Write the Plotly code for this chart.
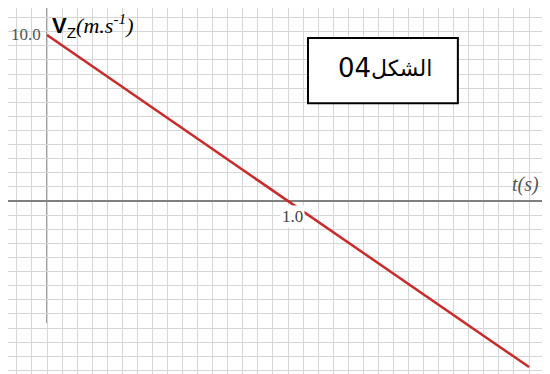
import plotly.graph_objects as go

# velocity v_z(t)
t_values = [0.0, 1.0, 2.0]
vz_values = [10.0, 0.0, -10.0]

y_tick_text = "10.0"
x_tick_text = "1.0"
y_title = ("<span style='font-family:Liberation Sans;font-size:22px'><b>V</b>"
           "<sub>Z</sub></span><i>(m.s<sup>-1</sup>)</i>")
x_title = "<i>t(s)</i>"
label_word = "الشكل"
label_num = "04"

GRID = "#d6d6d6"
AXIS = "#808080"
RED = "#c92a2a"

fig = go.Figure()

fig.add_trace(go.Scatter(
    x=t_values,
    y=vz_values,
    mode="lines",
    line=dict(color=RED, width=2.5),
    hoverinfo="skip",
))

# vertical axis line (does not run the full height)
fig.add_shape(type="line", xref="x", yref="y", x0=0, x1=0, y0=12.4, y1=-7.35,
              line=dict(color=AXIS, width=1.5), layer="below")

# label box
fig.add_shape(type="rect", xref="paper", yref="paper",
              x0=0.5535, x1=0.830, y0=0.740, y1=0.918,
              line=dict(color="black", width=2), fillcolor="white")

fig.add_annotation(x=0.669, y=0.835, xref="paper", yref="paper",
                   xanchor="right", yanchor="middle", xshift=2,
                   text=label_num, showarrow=False,
                   font=dict(family="DejaVu Sans", size=26, color="black"))
fig.add_annotation(x=0.669, y=0.835, xref="paper", yref="paper",
                   xanchor="left", yanchor="middle", xshift=-2,
                   text=label_word, showarrow=False,
                   font=dict(family="DejaVu Sans", size=22, color="black"))

fig.add_annotation(x=0, y=vz_values[0], xref="x", yref="y", xanchor="right",
                   xshift=-4, yshift=1, text=y_tick_text, showarrow=False,
                   font=dict(family="Liberation Serif", size=17, color="#555"))

fig.add_annotation(x=t_values[1], y=0, xref="x", yref="y", xanchor="center",
                   yanchor="top", xshift=4, yshift=-4, text=x_tick_text, showarrow=False,
                   bgcolor="white", borderpad=1,
                   font=dict(family="Liberation Serif", size=17, color="#444"))

fig.add_annotation(x=0, y=vz_values[0], xref="x", yref="y", xanchor="left",
                   yanchor="bottom", xshift=3, yshift=-8, text=y_title, showarrow=False,
                   font=dict(family="Liberation Serif", size=22, color="black"))

fig.add_annotation(x=2.05, y=0, xref="x", yref="y", xanchor="right",
                   yanchor="bottom", yshift=3, text=x_title, showarrow=False,
                   font=dict(family="Liberation Serif", size=20, color="#555"))

# the page body adds an 8px offset, so the figure is sized to the visible area
fig.update_layout(
    width=542,
    height=366,
    margin=dict(l=0, r=0, t=0, b=0),
    paper_bgcolor="white",
    plot_bgcolor="white",
    showlegend=False,
    xaxis=dict(
        range=[-0.1618, 2.087],
        tick0=0, dtick=0.0625,
        showgrid=True, gridcolor=GRID, gridwidth=1,
        showticklabels=False, ticks="",
        zeroline=False, showline=False, fixedrange=True,
    ),
    yaxis=dict(
        range=[-10.42, 11.63],
        tick0=0, dtick=0.85,
        showgrid=True, gridcolor=GRID, gridwidth=1,
        showticklabels=False, ticks="",
        zeroline=True, zerolinecolor=AXIS, zerolinewidth=2,
        showline=False, fixedrange=True,
    ),
)

fig.write_html("out.html")
